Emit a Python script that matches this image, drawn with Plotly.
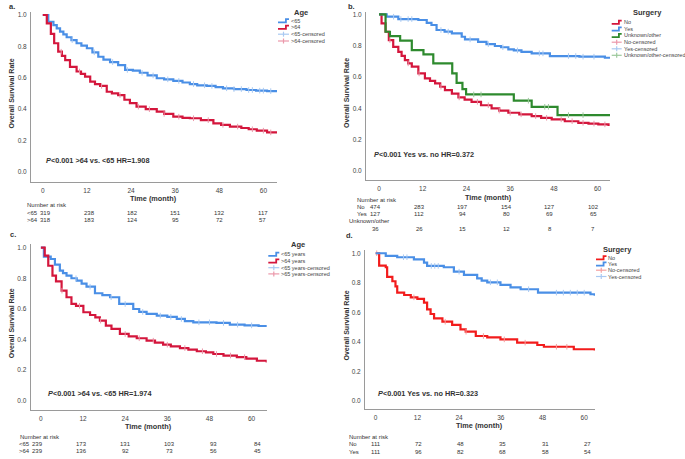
import plotly.graph_objects as go

W, H = 685, 459
FONT = "Liberation Sans, Arial, sans-serif"

# ---------------- data ----------------
x_ticks = [0, 12, 24, 36, 48, 60]
y_ticks = [0.0, 0.2, 0.4, 0.6, 0.8, 1.0]
y_tick_text = ["0.0", "0.2", "0.4", "0.6", "0.8", "1.0"]

# Panel a (Age)
a_lt65_t = [0, 1.5, 2.9, 3.8, 4.7, 5.6, 6.5, 7.8, 9.2, 10.5, 12, 13.5, 15.1, 16.5, 18.3, 20.5, 22.4, 24.5,
            26.4, 28.5, 31, 33, 35.5, 38, 40, 42, 44.6, 47, 49, 52, 55.4, 58, 61, 63.5]
a_lt65_s = [1, 0.957, 0.936, 0.915, 0.894, 0.876, 0.858, 0.84, 0.82, 0.805, 0.788, 0.762, 0.734, 0.715, 0.70,
            0.68, 0.65, 0.645, 0.632, 0.615, 0.597, 0.59, 0.58, 0.57, 0.56, 0.552, 0.548, 0.54, 0.533, 0.528,
            0.522, 0.518, 0.515, 0.508]
a_gt64_t = [0, 1.1, 2.2, 3.1, 4.2, 5.2, 6.1, 7.4, 9.2, 10.4, 11.5, 12.9, 14.2, 15.6, 17.4, 18.8, 20.5, 22.2,
            23.7, 25.5, 28, 31, 33, 35.5, 38, 40, 43, 46.4, 48.5, 50.9, 54, 56, 58.2, 61, 64]
a_gt64_s = [1, 0.947, 0.88, 0.82, 0.766, 0.74, 0.713, 0.67, 0.64, 0.625, 0.607, 0.575, 0.56, 0.548, 0.511,
            0.50, 0.49, 0.46, 0.438, 0.416, 0.40, 0.384, 0.37, 0.352, 0.345, 0.342, 0.33, 0.31, 0.30, 0.289,
            0.28, 0.272, 0.263, 0.252, 0.242]
a_lt65_cens = [8, 14, 19, 23, 27, 30, 34, 37, 41, 44, 46, 50, 52, 54, 56, 57, 59, 60, 62]
a_gt64_cens = [5, 10, 16, 21, 26, 29, 33, 37, 41, 45, 49, 53, 57, 60, 62]
a_risk_lt65 = [319, 238, 182, 151, 132, 117]
a_risk_gt64 = [318, 183, 124, 95, 72, 57]

# Panel b (Surgery)
b_no_t = [0, 0.7, 1.8, 2.7, 3.9, 5.3, 6.2, 7.1, 8, 9, 10.8, 12.6, 14, 15.4, 16.8, 18.1, 20, 21.8, 23.5,
          25.4, 28, 30.9, 33, 35.5, 38.5, 41.9, 44.5, 47.4, 51, 54.7, 57.5, 60.2, 63]
b_no_s = [1, 0.942, 0.889, 0.836, 0.793, 0.761, 0.735, 0.708, 0.687, 0.666, 0.623, 0.592, 0.576, 0.56,
          0.538, 0.517, 0.494, 0.47, 0.456, 0.442, 0.42, 0.40, 0.386, 0.372, 0.362, 0.351, 0.34, 0.33,
          0.318, 0.308, 0.303, 0.298, 0.287]
b_yes_t = [0, 2.1, 5.3, 10.8, 13.1, 14.4, 15.8, 18, 20, 22.7, 23.6, 27.2, 29.5, 31.8, 33.5, 35.5, 37,
           39.1, 41.9, 46.9, 55, 62, 63.4]
b_yes_s = [1, 0.985, 0.97, 0.964, 0.946, 0.932, 0.90, 0.89, 0.879, 0.857, 0.84, 0.825, 0.81, 0.798, 0.79,
           0.777, 0.77, 0.761, 0.751, 0.734, 0.73, 0.723, 0.72]
b_unk_t = [0, 1.8, 3, 5.8, 9, 12.2, 14.9, 20.1, 21.3, 22.9, 23.9, 37, 41.9, 49, 63.4]
b_unk_s = [1, 0.889, 0.861, 0.832, 0.772, 0.745, 0.687, 0.623, 0.563, 0.523, 0.489, 0.449, 0.41, 0.357, 0.357]
b_no_cens = [3, 8, 11, 17, 22, 27, 30, 33, 36, 39, 43, 46, 50, 53, 56, 59, 62]
b_yes_cens = [4, 6, 8, 9, 17, 19, 25, 30, 34, 38, 44, 45, 52, 54, 56, 59]
b_unk_cens = [26, 28, 41, 45.5, 46.5, 52, 56]
b_risk_no = [474, 283, 197, 154, 127, 102]
b_risk_yes = [127, 112, 94, 80, 69, 65]
b_risk_unk = [36, 26, 15, 12, 8, 7]

# Panel c (Age, matched)
c_lt65_t = [0, 0.85, 2.8, 4, 5.4, 6.3, 7.3, 8.7, 10.2, 11.6, 13, 15.4, 17.5, 19.7, 22.3, 26.3, 28, 30.1,
            33, 36, 38.7, 41, 43.4, 50, 53.8, 58, 62, 64.3]
c_lt65_s = [1, 0.941, 0.926, 0.889, 0.85, 0.833, 0.817, 0.80, 0.784, 0.765, 0.745, 0.702, 0.69, 0.676,
            0.632, 0.599, 0.58, 0.567, 0.556, 0.548, 0.534, 0.52, 0.512, 0.508, 0.497, 0.492, 0.488, 0.482]
c_gt64_t = [0, 1.1, 2.1, 3.3, 4.3, 5.9, 7.3, 8.7, 10, 12.1, 14, 15.5, 16.8, 18.5, 20.1, 22.5, 25, 27.3,
            30.1, 32.5, 34.8, 37, 39.6, 42, 44.4, 47, 49.1, 52, 55.8, 58.5, 61.5, 64.3]
c_gt64_s = [1, 0.948, 0.882, 0.817, 0.78, 0.719, 0.676, 0.632, 0.62, 0.578, 0.56, 0.545, 0.523, 0.49,
            0.469, 0.436, 0.42, 0.408, 0.392, 0.38, 0.366, 0.355, 0.344, 0.333, 0.323, 0.315, 0.305, 0.295,
            0.284, 0.275, 0.261, 0.25]
c_lt65_cens = [10, 14, 20, 24, 29, 34, 37, 40, 45, 48, 52, 56, 60]
c_gt64_cens = [6, 11, 17, 24, 28, 32, 36, 41, 46, 50, 54, 58]
c_risk_lt65 = [239, 173, 131, 103, 93, 84]
c_risk_gt64 = [239, 136, 92, 73, 56, 45]

# Panel d (Surgery, matched)
d_no_t = [0, 1, 2.9, 3.3, 4.8, 5.7, 6.2, 8.2, 10.1, 12, 13.9, 14.8, 15.8, 16.8, 19.2, 22, 24.4, 25.9,
          28.8, 32.1, 35.9, 40.7, 46.5, 48.4, 57, 63]
d_no_s = [1, 0.916, 0.905, 0.84, 0.81, 0.776, 0.733, 0.717, 0.701, 0.69, 0.665, 0.62, 0.588, 0.559, 0.536,
          0.514, 0.484, 0.468, 0.439, 0.43, 0.416, 0.394, 0.378, 0.366, 0.349, 0.34]
d_yes_t = [0, 2.9, 6.2, 11, 13.9, 14.8, 19.6, 22.5, 25.4, 29.2, 30.5, 32.1, 35.9, 38.8, 41.7, 46.7, 61.8, 63]
d_yes_s = [1, 0.982, 0.973, 0.959, 0.936, 0.914, 0.905, 0.875, 0.853, 0.83, 0.815, 0.803, 0.785, 0.769,
           0.756, 0.733, 0.722, 0.712]
d_no_cens = [0.3, 11, 20, 26, 31, 37, 43, 52, 55]
d_yes_cens = [8, 9, 16, 17, 18, 24, 33, 35, 44, 52, 54, 56, 58, 60]
d_risk_no = [111, 72, 48, 35, 31, 27]
d_risk_yes = [111, 96, 82, 68, 58, 54]

# ---------------- styles ----------------
BLUE = "#4a8fe6"
RED = "#d4163c"
RED_D = "#f21c1c"
GREEN = "#2e8a2e"
BLUE_L = "#a9c9f2"
RED_L = "#eb98aa"
RED_DL = "#f5a0a0"
GREEN_L = "#9cc89c"
TXT = "#333333"
AX = "#9a9a9a"


def px(xp):
    return xp / W


def py(yp):
    return 1 - yp / H


def step_at(ts, ss, c):
    val = ss[0]
    for t, s in zip(ts, ss):
        if t <= c:
            val = s
    return val


fig = go.Figure()
annotations = []
shapes = []


def txt(x, y, s, size=6, bold=False, anchor="left", color=TXT, angle=0):
    if bold:
        s = "<b>" + s + "</b>"
    annotations.append(dict(x=px(x), y=py(y), xref="paper", yref="paper", text=s, showarrow=False,
                            xanchor=anchor, yanchor="middle", textangle=angle, borderpad=0,
                            font=dict(family=FONT, size=size, color=color)))


panels = [
    dict(n=1, letter="a.", box=(31, 277, 12, 182), xr=[-3.2, 63.7], yr=[-0.064, 1.019],
         curves=[(a_lt65_t, a_lt65_s, a_lt65_cens, BLUE, BLUE_L), (a_gt64_t, a_gt64_s, a_gt64_cens, RED, RED_L)],
         letter_pos=(8, 7), ytitle=(11.5, 94), ptext=("<i>P</i><0.001 >64 vs. <65 HR=1.908", 45, 161),
         xtitle=(153.8, 199),
         leg_title=("Age", 300.7, 12.3), leg_x=(278, 289, 290), leg_y=[20.7, 27.3, 34.2, 41],
         leg_items=[("<65", BLUE, False), (">64", RED, False), ("<65-censored", BLUE_L, True),
                    (">64-censored", RED_L, True)],
         nar=(26, 205.5), rows=[("<65", a_risk_lt65, 26, 212.7), (">64", a_risk_gt64, 26, 219.7)],
         cols=(45.8, 262.5)),
    dict(n=2, letter="b.", box=(366, 610, 12, 180), xr=[-3.57, 63.4], yr=[-0.057, 1.015],
         curves=[(b_no_t, b_no_s, b_no_cens, RED, RED_L), (b_yes_t, b_yes_s, b_yes_cens, BLUE, BLUE_L),
                 (b_unk_t, b_unk_s, b_unk_cens, GREEN, GREEN_L)],
         letter_pos=(347, 7), ytitle=(346.5, 92.5), ptext=("<i>P</i><0.001 Yes vs. no HR=0.372", 373.3, 154.5),
         xtitle=(488.7, 197.7),
         leg_title=("Surgery", 647.3, 12.7), leg_x=(611.7, 621.7, 622.5),
         leg_y=[22.3, 29, 35.5, 42.2, 48.8, 55.3],
         leg_items=[("No", RED, False), ("Yes", BLUE, False), ("Unknown/other", GREEN, False),
                    ("No-censored", RED_L, True), ("Yes-censored", BLUE_L, True),
                    ("Unknown/other-censored", GREEN_L, True)],
         nar=(356, 200), rows=[("No", b_risk_no, 356, 206.8), ("Yes", b_risk_yes, 356, 214),
                               ("Unknown/other", None, 348, 221.3), ("", b_risk_unk, 356, 229)],
         cols=(375.8, 593)),
    dict(n=3, letter="c.", box=(30.7, 266.7, 244, 410), xr=[-2.9, 64.3], yr=[-0.061, 1.024],
         curves=[(c_lt65_t, c_lt65_s, c_lt65_cens, BLUE, BLUE_L), (c_gt64_t, c_gt64_s, c_gt64_cens, RED, RED_L)],
         letter_pos=(9, 234.7), ytitle=(11, 323.3), ptext=("<i>P</i><0.001 >64 vs. <65 HR=1.974", 46.7, 393.3),
         xtitle=(148.7, 426),
         leg_title=("Age", 298.3, 245), leg_x=(268.3, 279.3, 280), leg_y=[254.3, 261, 267.7, 273.9],
         leg_items=[("<65 years", BLUE, False), (">64 years", RED, False), ("<65 years-censored", BLUE_L, True),
                    (">65 years-censored", RED_L, True)],
         nar=(18.5, 436.7), rows=[("<65", c_risk_lt65, 18, 443.5), (">64", c_risk_gt64, 18, 450.8)],
         cols=(37.5, 257)),
    dict(n=4, letter="d.", box=(365, 595, 250, 409), xr=[-3.07, 63.1], yr=[-0.056, 1.022],
         curves=[(d_no_t, d_no_s, d_no_cens, RED_D, RED_DL), (d_yes_t, d_yes_s, d_yes_cens, BLUE, BLUE_L)],
         letter_pos=(345, 235.5), ytitle=(346.7, 325.8), ptext=("<i>P</i><0.001 Yes vs. no HR=0.323", 376.7, 393.3),
         xtitle=(479.3, 425),
         leg_title=("Surgery", 617.7, 249.3), leg_x=(596, 606.5, 607), leg_y=[257.7, 264, 270.2, 276.5],
         leg_items=[("No", RED_D, False), ("Yes", BLUE, False), ("No-censored", RED_DL, True),
                    ("Yes-censored", BLUE_L, True)],
         nar=(348, 436.7), rows=[("No", d_risk_no, 348, 444.3), ("Yes", d_risk_yes, 348, 451.7)],
         cols=(375.8, 587.5)),
]

layout_axes = {}
for p in panels:
    n = p["n"]
    x0, x1, y0, y1 = p["box"]
    xa = "x" if n == 1 else f"x{n}"
    ya = "y" if n == 1 else f"y{n}"
    for (ts, ss, cens, col, lcol) in p["curves"]:
        fig.add_trace(go.Scatter(x=ts, y=ss, mode="lines", line=dict(color=col, width=2.2, shape="hv"),
                                 xaxis=xa, yaxis=ya, showlegend=False, hoverinfo="skip"))
        fig.add_trace(go.Scatter(x=cens, y=[step_at(ts, ss, c) for c in cens], mode="markers",
                                 marker=dict(symbol="line-ns", size=4, line=dict(color=lcol, width=1)),
                                 xaxis=xa, yaxis=ya, showlegend=False, hoverinfo="skip"))
    common = dict(showgrid=False, zeroline=False, showline=True, linecolor=AX, linewidth=1,
                  ticks="", tickfont=dict(family=FONT, size=6.5, color="#444"))
    layout_axes["xaxis" if n == 1 else f"xaxis{n}"] = dict(
        domain=[px(x0), px(x1)], range=p["xr"], tickvals=x_ticks, anchor=ya,
        ticklabelstandoff=2, **common)
    layout_axes["yaxis" if n == 1 else f"yaxis{n}"] = dict(
        domain=[py(y1), py(y0)], range=p["yr"], tickvals=y_ticks, ticktext=y_tick_text, anchor=xa,
        ticklabelstandoff=2, **common)

    # texts
    txt(p["letter_pos"][0], p["letter_pos"][1], p["letter"], size=7.5, bold=True)
    txt(p["ytitle"][0], p["ytitle"][1], "Overall Survival Rate", size=7, bold=True, anchor="center", angle=-90)
    txt(p["ptext"][1], p["ptext"][2], p["ptext"][0], size=7.3, bold=True)
    txt(p["xtitle"][0], p["xtitle"][1], "Time (month)", size=7.3, bold=True, anchor="center")

    # legend
    lt, lx, ly = p["leg_title"]
    txt(lx, ly, lt, size=7.5, bold=True, anchor="center")
    sx0, sx1, tx = p["leg_x"]
    for (label, col, cens), yy in zip(p["leg_items"], p["leg_y"]):
        if cens:
            shapes.append(dict(type="line", xref="paper", yref="paper", x0=px(sx0), x1=px(sx1),
                               y0=py(yy), y1=py(yy), line=dict(color=col, width=1.2)))
            xm = (sx0 + sx1) / 2
            shapes.append(dict(type="line", xref="paper", yref="paper", x0=px(xm), x1=px(xm),
                               y0=py(yy - 2.5), y1=py(yy + 2.5), line=dict(color=col, width=1.2)))
        else:
            xm = sx0 + (sx1 - sx0) * 0.72
            path = (f"M {px(sx0)},{py(yy + 1.6)} L {px(xm)},{py(yy + 1.6)} "
                    f"L {px(xm)},{py(yy - 1.6)} L {px(sx1)},{py(yy - 1.6)}")
            shapes.append(dict(type="path", xref="paper", yref="paper", path=path,
                               line=dict(color=col, width=1.8)))
        txt(tx, yy, label, size=5.5, color="#444")

    # number at risk table
    txt(p["nar"][0], p["nar"][1], "Number at risk", size=6, color="#333")
    c0, c1 = p["cols"]
    for (label, vals, lxp, yy) in p["rows"]:
        if label:
            txt(lxp, yy, label, size=6, color="#333")
        if vals is not None:
            for i, v in enumerate(vals):
                xc = c0 + (c1 - c0) * i / (len(vals) - 1)
                txt(xc, yy, str(v), size=6, color="#333", anchor="center")

fig.update_layout(width=W, height=H, margin=dict(l=0, r=0, t=0, b=0),
                  paper_bgcolor="white", plot_bgcolor="white", showlegend=False,
                  annotations=annotations, shapes=shapes, **layout_axes)

fig.write_html("out.html", config={"displayModeBar": False},
               post_script="document.body.style.margin='0';document.body.style.padding='0';"
                           "document.body.style.overflow='hidden';")
